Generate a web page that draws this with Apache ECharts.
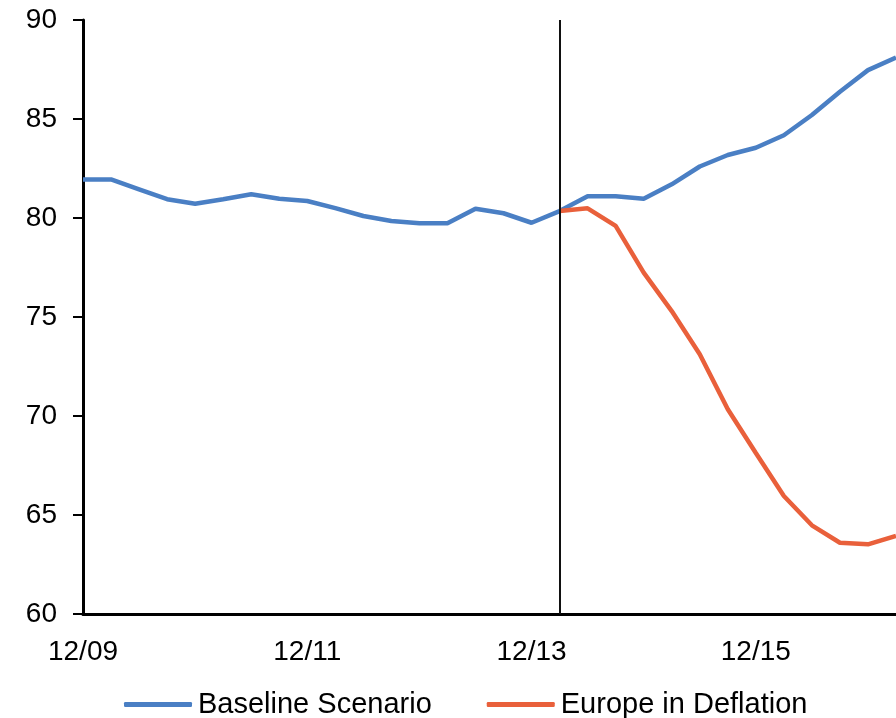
<!DOCTYPE html>
<html>
<head>
<meta charset="utf-8">
<script src="https://cdn.jsdelivr.net/npm/echarts@6/dist/echarts.min.js"></script>
<style>
  html, body { margin: 0; padding: 0; background: #fff; }
  #chart { width: 896px; height: 718px; }
</style>
</head>
<body>
<div id="chart"></div>
<script>
// Quarter-end dates, Dec 2009 to Mar 2017
var quarters = [
  '12/09', '3/10', '6/10', '9/10', '12/10', '3/11', '6/11', '9/11',
  '12/11', '3/12', '6/12', '9/12', '12/12', '3/13', '6/13', '9/13',
  '12/13', '3/14', '6/14', '9/14', '12/14', '3/15', '6/15', '9/15',
  '12/15', '3/16', '6/16', '9/16', '12/16', '3/17'
];

var baseline = [
  81.95, 81.95, 81.45, 80.95, 80.72, 80.95, 81.2, 80.97,
  80.86, 80.5, 80.1, 79.85, 79.73, 79.73, 80.47, 80.24,
  79.76, 80.35, 81.1, 81.1, 80.97, 81.7, 82.6, 83.18,
  83.55, 84.18, 85.2, 86.38, 87.47, 88.1
];

var deflation = [
  null, null, null, null, null, null, null, null,
  null, null, null, null, null, null, null, null,
  null, 80.35, 80.49, 79.6, 77.24, 75.3, 73.12, 70.34,
  68.13, 65.96, 64.48, 63.6, 63.52, 63.94
];

var seriesNames = ['Baseline Scenario', 'Europe in Deflation'];
var yTicks = [60, 65, 70, 75, 80, 85, 90];
var splitQuarter = '3/14';

var font = 'Liberation Sans, Arial, sans-serif';
var chart = echarts.init(document.getElementById('chart'), null, { renderer: 'canvas' });

chart.setOption({
  animation: false,
  backgroundColor: '#ffffff',
  grid: { left: 83, right: 0, top: 20, bottom: 104, containLabel: false },
  legend: {
    data: seriesNames,
    left: 119,
    top: 685,
    itemWidth: 68,
    itemHeight: 5,
    itemGap: 55,
    icon: 'roundRect',
    textStyle: { fontFamily: font, fontSize: 29, color: '#000', padding: [0, 0, 0, 1] }
  },
  xAxis: {
    type: 'category',
    data: quarters,
    boundaryGap: false,
    axisLine: { lineStyle: { color: '#000', width: 3 } },
    axisTick: { show: false },
    axisLabel: { interval: 7, margin: 24, fontFamily: font, fontSize: 28, color: '#000' },
    splitLine: { show: false }
  },
  yAxis: {
    type: 'value',
    min: yTicks[0],
    max: yTicks[yTicks.length - 1],
    interval: yTicks[1] - yTicks[0],
    axisLine: { show: true, lineStyle: { color: '#000', width: 3 } },
    axisTick: { show: true, inside: false, length: 10, lineStyle: { color: '#000', width: 2 } },
    axisLabel: { margin: 26, fontFamily: font, fontSize: 28, color: '#000' },
    splitLine: { show: false }
  },
  series: [
    {
      name: seriesNames[0],
      type: 'line',
      data: baseline,
      symbol: 'none',
      lineStyle: { color: '#4a7fc4', width: 4.5 },
      itemStyle: { color: '#4a7fc4' },
      markLine: {
        silent: true,
        symbol: ['none', 'none'],
        label: { show: false },
        lineStyle: { color: '#111', width: 2, type: 'solid' },
        data: [{ xAxis: splitQuarter }]
      }
    },
    {
      name: seriesNames[1],
      type: 'line',
      data: deflation,
      symbol: 'none',
      lineStyle: { color: '#e9603b', width: 4.5 },
      itemStyle: { color: '#e9603b' }
    }
  ]
});
</script>
</body>
</html>
